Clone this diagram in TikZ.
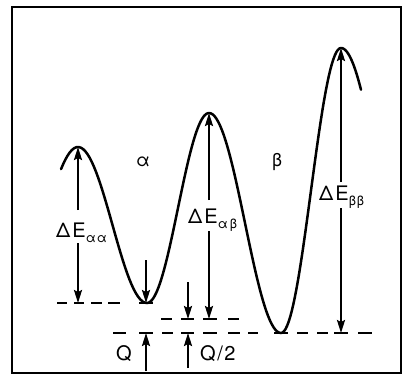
\documentclass[tikz,border=0pt]{standalone}
\usepackage{fontspec}
\setmainfont{TeX Gyre Heros}
\usetikzlibrary{arrows.meta}
\newcommand\sbx[1]{\raisebox{-5pt}{\fontsize{13}{13}\selectfont #1}}
\tikzset{
  curve/.style={line width=2.5pt, line join=round, line cap=round},
  arr/.style={line width=2.1pt, -{Stealth[length=13pt,width=8pt,inset=2pt]}},
  lvl/.style={line width=2pt},
  big/.style={font=\fontsize{20}{24}\selectfont, inner sep=0pt},
  greek/.style={font=\fontsize{18}{21}\selectfont, inner sep=0pt},
}
\begin{document}
\begin{tikzpicture}[x=1pt,y=-1pt]
\useasboundingbox (0,0) rectangle (405,384);
\draw[line width=2.2pt] (12,7) rectangle (401,373);
% key points
\coordinate (p1) at (78,147);
\coordinate (m1) at (147,303);
\coordinate (p2) at (209,113);
\coordinate (m2) at (281,333);
\coordinate (p3) at (341,48);
\coordinate (lA) at (0,303);
\coordinate (lC) at (0,319);
\coordinate (lB) at (0,333);
% energy curve
\draw[curve]
  plot[domain=-0.246:1,samples=40] ({78+69*\x},{147+156*(1-cos(180*\x))/2})
  -- plot[domain=0:1,samples=40] ({147+62*\x},{303-190*(1-cos(180*\x))/2})
  -- plot[domain=0:1,samples=40] ({209+72*\x},{113+220*(1-cos(180*\x))/2})
  -- plot[domain=0:1,samples=40] ({281+60*\x},{333-285*(1-cos(180*\x))/2})
  -- plot[domain=0:0.25,samples=15] ({341+80*\x},{48+285*(1-cos(180*\x))/2});
% dashed levels
\foreach \a/\b in {57/67,74/84,91/102,108/120,139/153}
  \draw[lvl] (\a,303) -- (\b,303);
\foreach \a/\b in {161/172,181/194,203/217,228/239}
  \draw[lvl] (\a,319) -- (\b,319);
\foreach \a/\b in {113/126,139/153,162/173,181/194,203/217,228/240,248/258,274/288,297/308,317/328,334/348,358/372}
  \draw[lvl] (\a,333) -- (\b,333);
% region labels
\node[greek] (al) at (143,162) {α};
\node[greek] (be) at (277,162) {β};
% barrier labels
\node[big, anchor=base west] (Laa) at (56,237) {Δ\kern2pt E\sbx{α\kern1pt α}};
\node[big, anchor=base west] (Lab) at (188,223) {Δ\kern2pt E\sbx{α\kern2pt β}};
\node[big, anchor=base west] (Lbb) at (319,200) {Δ\kern2pt E\sbx{β\kern1pt β}};
% barrier arrows
\draw[arr] ([yshift=12pt]Laa.north -| p1) -- (p1);
\draw[arr] ([yshift=-1pt]Laa.south -| p1) -- (p1 |- lA);
\draw[arr] ([yshift=8pt]Lab.north -| p2) -- (p2);
\draw[arr] (Lab.south -| p2) -- (p2 |- lC);
\draw[arr] ([yshift=3pt]Lbb.north -| p3) -- (p3);
\draw[arr] (Lbb.south -| p3) -- (p3 |- lB);
% Q arrows
\coordinate (dt) at (146,260);
\coordinate (qb) at (146,371);
\coordinate (ht) at (188,282);
\coordinate (hb) at (188,368);
\draw[arr] (dt) -- (dt |- lA);
\draw[arr] (qb) -- (qb |- lB);
\draw[arr] (ht) -- (ht |- lC);
\draw[arr] (hb) -- (hb |- lB);
\node[big, anchor=base] (Q) at (124,360) {Q};
\node[big, anchor=base west] (Q2) at (200,360) {Q\kern1.5pt/\kern1.5pt2};
\end{tikzpicture}
\end{document}
